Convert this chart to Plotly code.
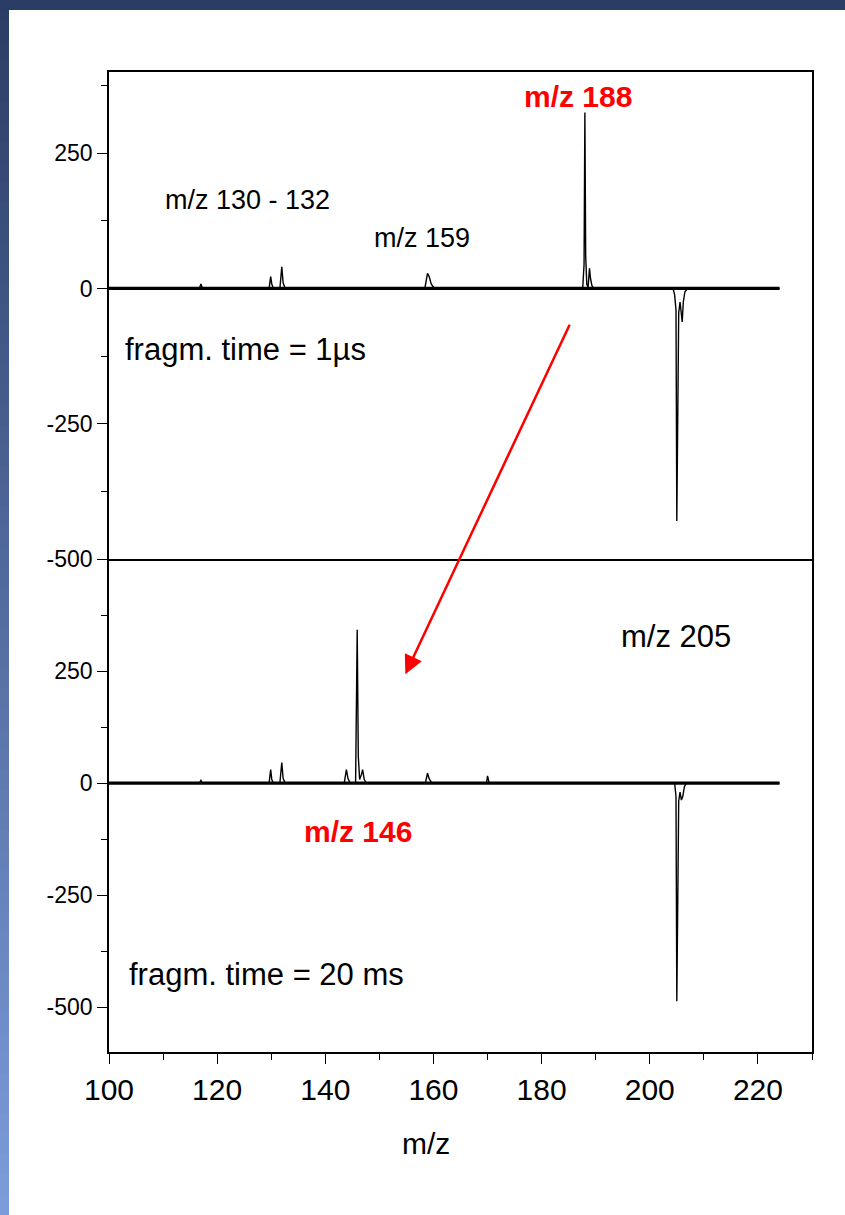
import plotly.graph_objects as go

# ---------------- data ----------------
mz_top = [100, 116.7, 117.0, 117.3, 129.6, 129.9, 130.1, 130.4, 131.6, 131.95, 132.2, 132.6,
          158.4, 158.7, 158.9, 159.2, 159.6, 160.2,
          187.6, 187.85, 188.0, 188.15, 188.35, 188.6, 188.85, 189.05, 189.3, 189.7,
          204.3, 204.6, 204.85, 205.0, 205.15, 205.35, 205.6, 205.85, 206.0, 206.2, 206.5, 207.0, 224]
int_top = [0, 0, 8, 0, 0, 22, 8, 0, 0, 40, 10, 0,
           0, 18, 28, 22, 8, 0,
           0, 45, 325, 60, 8, 2, 37, 18, 5, 0,
           0, -12, -40, -430, -250, -45, -25, -60, -62, -25, -6, 0, 0]

mz_bot = [100, 116.7, 117.0, 117.3, 129.6, 129.9, 130.1, 130.4, 131.6, 131.95, 132.2, 132.6,
          143.5, 143.9, 144.2, 144.6, 145.6, 145.9, 146.1, 146.35, 146.7, 146.9, 147.2, 147.6,
          158.5, 158.9, 159.2, 159.7, 169.8, 170.0, 170.3,
          204.6, 204.85, 205.0, 205.15, 205.35, 205.6, 205.85, 206.1, 206.4, 206.8, 224]
int_bot = [0, 0, 6, 0, 0, 30, 8, 0, 0, 46, 10, 0,
           0, 30, 10, 0, 0, 342, 60, 8, 20, 30, 8, 0,
           0, 22, 10, 0, 0, 16, 0,
           0, -30, -487, -300, -40, -20, -38, -30, -8, 0, 0]

# m/z span of the recorded baseline (noise band)
baseline_mz = [100, 224]
baseline_int = [0, 0]

x_ticks = [100, 120, 140, 160, 180, 200, 220]
y_ticks = [-500, -250, 0, 250]
y_tick_text = ["-500", "-250", "0", "250"]

FONT = "Liberation Sans, Arial, sans-serif"

# plot area in pixels
L, R, T, B = 109, 812, 72, 1052
W, H = 845, 1215
split = (B - 559) / (B - T)

def px(xp):
    return (xp - L) / (R - L)

def py(yp):
    return (B - yp) / (B - T)

fig = go.Figure()
for xa, ya, mz, it in (("x2", "y2", mz_top, int_top), ("x", "y", mz_bot, int_bot)):
    fig.add_trace(go.Scatter(x=baseline_mz, y=baseline_int, mode="lines", xaxis=xa, yaxis=ya,
                             line=dict(color="black", width=3.2), showlegend=False, hoverinfo="skip"))
    fig.add_trace(go.Scatter(x=mz, y=it, mode="lines", xaxis=xa, yaxis=ya,
                             line=dict(color="black", width=1.4), showlegend=False, hoverinfo="skip"))

axis_common = dict(showline=True, linecolor="black", linewidth=1.5,
                   showgrid=False, zeroline=False)

fig.update_layout(
    width=W, height=H,
    margin=dict(l=L, r=W - R, t=T, b=H - B),
    paper_bgcolor="white", plot_bgcolor="white",
    font=dict(family=FONT, color="black"),
    xaxis=dict(**axis_common, mirror=False, domain=[0, 1], anchor="y", range=[100, 230],
               tickvals=x_ticks, ticks="outside", ticklen=10, tickwidth=1.3, tickcolor="black",
               tickfont=dict(size=30, family=FONT),
               minor=dict(dtick=10, tick0=100, ticks="outside", ticklen=6, tickwidth=1.3,
                          tickcolor="black", showgrid=False)),
    xaxis2=dict(**axis_common, mirror=True, domain=[0, 1], anchor="y2", range=[100, 230],
                matches="x", showticklabels=False, ticks=""),
    yaxis=dict(**axis_common, mirror=True, domain=[0, split], anchor="x", range=[-600, 500],
               tickvals=y_ticks, ticktext=y_tick_text, ticks="outside", ticklen=10, tickwidth=1.3,
               tickcolor="black", tickfont=dict(size=23, family=FONT),
               minor=dict(dtick=125, tick0=0, ticks="outside", ticklen=6, tickwidth=1.3,
                          tickcolor="black", showgrid=False)),
    yaxis2=dict(**axis_common, mirror=True, domain=[split, 1], anchor="x2", range=[-500, 400],
                tickvals=y_ticks, ticktext=y_tick_text, ticks="outside", ticklen=10, tickwidth=1.3,
                tickcolor="black", tickfont=dict(size=23, family=FONT),
                minor=dict(dtick=125, tick0=0, ticks="outside", ticklen=6, tickwidth=1.3,
                           tickcolor="black", showgrid=False)),
)

# decorative blue frame (left gradient strip and top strip)
shapes = []
n = 60
top_c = (0x2b, 0x3d, 0x64)
bot_c = (0x7c, 0x9c, 0xdb)
for i in range(n):
    y0 = i * H / n
    y1 = min((i + 1) * H / n + 1, H)
    t = (i + 0.5) / n
    c = tuple(int(round(top_c[k] + (bot_c[k] - top_c[k]) * t)) for k in range(3))
    shapes.append(dict(type="rect", xref="paper", yref="paper", layer="above",
                       x0=px(0), x1=px(9), y0=py(y0), y1=py(y1),
                       fillcolor="rgb(%d,%d,%d)" % c, line=dict(width=0)))
shapes.append(dict(type="rect", xref="paper", yref="paper", layer="above",
                   x0=px(0), x1=px(W), y0=py(0), y1=py(10),
                   fillcolor="rgb(43,61,100)", line=dict(width=0)))
fig.update_layout(shapes=shapes)

RED = "#ff0000"
ann = [
    dict(x=186.7, y=355, xref="x2", yref="y2", text="<b>m/z 188</b>", showarrow=False,
         font=dict(size=30, color=RED, family=FONT), xanchor="center", yanchor="middle"),
    dict(x=110.0, y=163, xref="x2", yref="y2", text="m/z 130 - 132", showarrow=False,
         font=dict(size=27, family=FONT), xanchor="left", yanchor="middle"),
    dict(x=148.7, y=93, xref="x2", yref="y2", text="m/z 159", showarrow=False,
         font=dict(size=27, family=FONT), xanchor="left", yanchor="middle"),
    dict(x=102.6, y=-112, xref="x2", yref="y2", text="fragm. time = 1µs", showarrow=False,
         font=dict(size=31, family=FONT), xanchor="left", yanchor="middle"),
    dict(x=194.4, y=328, xref="x", yref="y", text="m/z 205", showarrow=False,
         font=dict(size=31, family=FONT), xanchor="left", yanchor="middle"),
    dict(x=135.7, y=-109, xref="x", yref="y", text="<b>m/z 146</b>", showarrow=False,
         font=dict(size=30, color=RED, family=FONT), xanchor="left", yanchor="middle"),
    dict(x=103.3, y=-426, xref="x", yref="y", text="fragm. time = 20 ms", showarrow=False,
         font=dict(size=31, family=FONT), xanchor="left", yanchor="middle"),
    dict(x=px(426), y=py(1143), xref="paper", yref="paper", text="m/z", showarrow=False,
         font=dict(size=30, family=FONT), xanchor="center", yanchor="middle"),
    # red arrow from upper panel to lower panel
    dict(x=154.8, y=243, xref="x", yref="y", ax=165, ay=-351, axref="pixel", ayref="pixel",
         text="", showarrow=True, arrowhead=2, arrowsize=1.5, arrowwidth=2.5, arrowcolor=RED),
]
fig.update_layout(annotations=ann)

fig.write_html("out.html")
